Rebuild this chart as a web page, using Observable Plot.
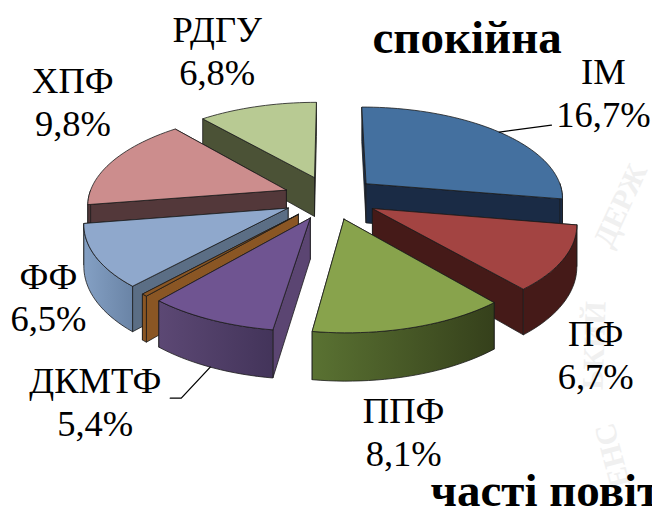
<!DOCTYPE html>
<html><head><meta charset="utf-8">
<script src="https://cdn.jsdelivr.net/npm/d3@7"></script>
<script src="https://cdn.jsdelivr.net/npm/@observablehq/plot@0.6"></script>
<style>html,body{margin:0;padding:0;background:#fff}svg{display:block}</style>
</head><body><div id="c"></div>
<script>
const names = ["ІМ","ПФ","ППФ","ДКМТФ","","ФФ","ХПФ","РДГУ"];
const values = [16.7,6.7,8.1,5.4,0.25,6.5,9.8,6.8];
const topColors = ["#44709f","#a34442","#88a34c","#6f5491","#8a5624","#8fa8cc","#cc8d8d","#b8ca93"];
const wallColors = ["#1a2b45","#451a18","#3f4d22","#5b4572","#8a5624","#5b6e85","#53383a","#4b5236"];
const rimFills = ["#1a2b45","#451a18","url(#gGreen)","url(#gPurple)","#8a5624","url(#gBlue)","#53383a","#4b5236"];
const paintOrder = [7,0,6,5,1,4,3,2];
const watermark = ["ЕНС","ЬКИЙ","ДЕРЖ"];

// view of the tilted disc
const view = {cx:330, cy:197, f:198, a:91, b:0.14, depth:40, explode:0.24};
const labelShift = [[104,-40],[32,95],[-8,103],[-115,81],[0,0],[-47,40],[-40,-60],[-40,-57]];
const serif = "Liberation Serif";

const project = (X,Y,z=0) => {
  const s = 1/(1-view.b*Y);
  return {x:view.cx+view.f*X*s, y:view.cy+view.a*Y*s+z*view.depth*s};
};
const rad = d => d*Math.PI/180;
const total = d3.sum(values);
let acc = 0;
const slices = values.map((v,i)=>{
  const a0 = acc/total*360; acc += v; const a1 = acc/total*360; const mid=(a0+a1)/2;
  const ox = view.explode*Math.sin(rad(mid)), oy = -view.explode*Math.cos(rad(mid));
  const rim = (a,z=0)=>project(ox+Math.sin(rad(a)), oy-Math.cos(rad(a)), z);
  const apex = z=>project(ox,oy,z);
  return {i,a0,a1,mid,rim,apex};
});
const arc = (s,from,to,z)=>{
  const n = Math.max(1,Math.ceil((to-from)/2));
  return d3.range(n+1).map(k=>s.rim(from+(to-from)*k/n,z));
};
const closed = p => [...p,p[0]];
const face = (pts,fill)=>Plot.line(closed(pts),{x:"x",y:"y",fill,stroke:"#1c1c1c",strokeWidth:0.8,strokeLinejoin:"round",curve:"linear"});

const marks = [];
marks.push(()=>{
  const defs = d3.create("svg:defs");
  const grad=(id,c0,c1)=>{const g=defs.append("linearGradient").attr("id",id).attr("x1",0).attr("x2",1).attr("y1",0).attr("y2",0);
    g.append("stop").attr("offset",0).attr("stop-color",c0);g.append("stop").attr("offset",1).attr("stop-color",c1);};
  grad("gGreen","#5a7232","#35401b");
  grad("gPurple","#5c4874","#43345a");
  grad("gBlue","#84a0c4","#6a84a6");
  return defs.node();
});
// faint seal behind the chart
const seal = [{t:watermark[0],x:612,y:455,r:-105},{t:watermark[1],x:594,y:345,r:-88},{t:watermark[2],x:620,y:205,r:-65}];
for (const w of seal) marks.push(Plot.text([w],{x:"x",y:"y",text:"t",rotate:w.r,fontSize:30,fontWeight:"bold",fill:"#f0f0f0",fontFamily:serif}));
for (const idx of paintOrder){
  const s = slices[idx];
  const walls = [s.a0,s.a1].sort((p,q)=>s.rim(p).y-s.rim(q).y);
  for (const w of walls) marks.push(face([s.apex(0),s.rim(w,0),s.rim(w,1),s.apex(1)],wallColors[idx]));
  const f=Math.max(s.a0,90), t=Math.min(s.a1,270);
  if (t>f) marks.push(face([...arc(s,f,t,0),...arc(s,f,t,1).reverse()],rimFills[idx]));
  marks.push(face([s.apex(0),...arc(s,s.a0,s.a1,0)],topColors[idx]));
}
// leader lines
const p0 = slices[0].rim(slices[0].mid,0);
marks.push(Plot.line([p0,{x:p0.x+52,y:p0.y-7}],{x:"x",y:"y",stroke:"#000",strokeWidth:1.3}));
const p3 = slices[3].rim(slices[3].mid,1);
marks.push(Plot.line([p3,{x:p3.x-29,y:p3.y+31},{x:p3.x-40,y:p3.y+31}],{x:"x",y:"y",stroke:"#000",strokeWidth:1.3}));
// labels
const fmt = v => v.toFixed(1).replace(".",",")+"%";
const labels = slices.filter(s=>names[s.i]).map(s=>{
  const p = s.rim(s.mid,0);
  return {x:p.x+labelShift[s.i][0], y:p.y+labelShift[s.i][1], t:names[s.i]+"\n"+fmt(values[s.i])};
});
marks.push(Plot.text(labels,{x:"x",y:"y",text:"t",fontSize:36.5,lineHeight:1.17,fill:"#000",textAnchor:"middle",fontFamily:serif}));
marks.push(Plot.text(["спокійна"],{frameAnchor:"top-left",dx:372,dy:37,fontSize:47,fontWeight:"bold",textAnchor:"start",lineAnchor:"middle",fill:"#000",fontFamily:serif}));
marks.push(Plot.text(["часті повіт"],{frameAnchor:"top-left",dx:430,dy:490,fontSize:47,fontWeight:"bold",textAnchor:"start",lineAnchor:"middle",fill:"#000",fontFamily:serif}));

const chart = Plot.plot({width:652,height:513,margin:0,
  style:{background:"#fff",overflow:"hidden",fontFamily:"'Liberation Serif'"},
  x:{domain:[0,652],axis:null},y:{domain:[0,513],range:[0,513],axis:null},marks});
document.getElementById("c").append(chart);
</script></body></html>
